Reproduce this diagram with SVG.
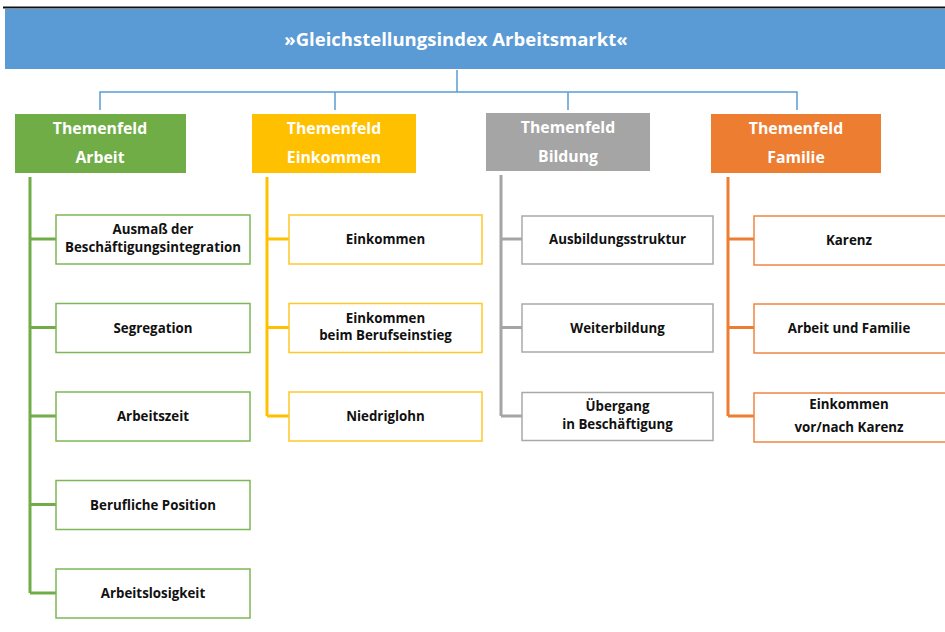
<svg xmlns="http://www.w3.org/2000/svg" width="945" height="632" viewBox="0 0 945 632">
<style>
text{font-family:"Open Sans","Liberation Sans",sans-serif;font-weight:bold;text-anchor:middle}
.title{fill:#fff;font-size:18.5px}
.hd{fill:#fff;font-size:15.8px}
.ch{fill:#111;font-size:13.3px}
.box{fill:#fff;stroke-width:1.5}
.g{stroke:#7DB757}.y{stroke:#FFC829}.a{stroke:#A9A9A9}.o{stroke:#EE8540}
.ln{fill:none;stroke-width:3}
</style>
<rect x="0" y="0" width="945" height="632" fill="#fff"/>
<line x1="3" y1="7.5" x2="945" y2="7.5" stroke="#111" stroke-width="2"/>
<g id="title">
<rect x="5" y="9" width="940" height="60" fill="#5B9BD5"/>
<text class="title" x="456" y="46">»Gleichstellungsindex Arbeitsmarkt«</text>
</g>
<g id="connectors">
<path d="M457 70V92M100 110V92H797V110M335 92V110M568 92V110" fill="none" stroke="#5B9BD5" stroke-width="1.5"/>
<path class="ln" stroke="#70AD47" d="M30 177V593M30 239H56M30 327.5H56M30 416H56M30 504.5H56M30 593H56"/>
<path class="ln" stroke="#FFC000" d="M267 177V416M267 239H289M267 327.5H289M267 416H289"/>
<path class="ln" stroke="#A5A5A5" d="M501 175V416M501 239H522M501 327.5H522M501 416H522"/>
<path class="ln" stroke="#ED7D31" d="M728 177V416M728 239H754M728 327.5H754M728 416H754"/>
</g>
<g id="h-arbeit"><rect x="15" y="114" width="171" height="59" fill="#70AD47"/><text class="hd" x="100" y="134">Themenfeld</text><text class="hd" x="100" y="163">Arbeit</text></g>
<g id="h-einkommen"><rect x="252" y="114" width="164" height="59" fill="#FFC000"/><text class="hd" x="334" y="134">Themenfeld</text><text class="hd" x="334" y="163">Einkommen</text></g>
<g id="h-bildung"><rect x="486" y="113" width="164" height="58" fill="#A5A5A5"/><text class="hd" x="568" y="133">Themenfeld</text><text class="hd" x="568" y="162">Bildung</text></g>
<g id="h-familie"><rect x="711" y="114" width="170" height="59" fill="#ED7D31"/><text class="hd" x="796" y="134">Themenfeld</text><text class="hd" x="796" y="163">Familie</text></g>

<g id="a1"><rect class="box g" x="56" y="215" width="194" height="49"/><text class="ch" x="153" y="234">Ausmaß der</text><text class="ch" x="153" y="251.5">Beschäftigungsintegration</text></g>
<g id="a2"><rect class="box g" x="56" y="303.5" width="194" height="49"/><text class="ch" x="153" y="332.5">Segregation</text></g>
<g id="a3"><rect class="box g" x="56" y="392" width="194" height="49"/><text class="ch" x="153" y="421">Arbeitszeit</text></g>
<g id="a4"><rect class="box g" x="56" y="480.5" width="194" height="49"/><text class="ch" x="153" y="509.5">Berufliche Position</text></g>
<g id="a5"><rect class="box g" x="56" y="569" width="194" height="49"/><text class="ch" x="153" y="598">Arbeitslosigkeit</text></g>

<g id="e1"><rect class="box y" x="289" y="215" width="193" height="49"/><text class="ch" x="385.5" y="244">Einkommen</text></g>
<g id="e2"><rect class="box y" x="289" y="303.5" width="193" height="49"/><text class="ch" x="385.5" y="322.5">Einkommen</text><text class="ch" x="385.5" y="340">beim Berufseinstieg</text></g>
<g id="e3"><rect class="box y" x="289" y="392" width="193" height="49"/><text class="ch" x="385.5" y="421">Niedriglohn</text></g>

<g id="b1"><rect class="box a" x="522" y="216" width="191" height="48"/><text class="ch" x="617.5" y="244">Ausbildungsstruktur</text></g>
<g id="b2"><rect class="box a" x="522" y="304" width="191" height="48"/><text class="ch" x="617.5" y="332.5">Weiterbildung</text></g>
<g id="b3"><rect class="box a" x="522" y="392.5" width="191" height="48"/><text class="ch" x="617.5" y="411">Übergang</text><text class="ch" x="617.5" y="428.5">in Beschäftigung</text></g>

<g id="f1"><rect class="box o" x="754" y="216" width="200" height="49"/><text class="ch" x="849" y="244.5">Karenz</text></g>
<g id="f2"><rect class="box o" x="754" y="304" width="200" height="49"/><text class="ch" x="849" y="332.5">Arbeit und Familie</text></g>
<g id="f3"><rect class="box o" x="754" y="393" width="200" height="49"/><text class="ch" x="849" y="409">Einkommen</text><text class="ch" x="849" y="432">vor/nach Karenz</text></g>
</svg>
